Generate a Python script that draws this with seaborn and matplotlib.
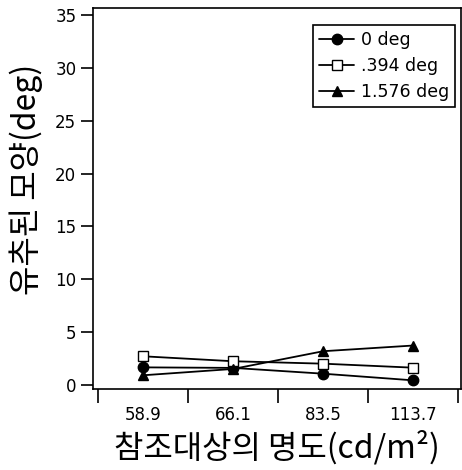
import matplotlib
matplotlib.use("Agg")
import matplotlib.pyplot as plt
import seaborn as sns
import pandas as pd
import numpy as np

categories = ["58.9", "66.1", "83.5", "113.7"]
series_names = ["0 deg", ".394 deg", "1.576 deg"]
vals_0 = [1.65, 1.6, 1.05, 0.42]
vals_394 = [2.7, 2.23, 2.0, 1.62]
vals_1576 = [0.9, 1.5, 3.18, 3.72]
y_ticks = [0, 5, 10, 15, 20, 25, 30, 35]

sns.set_theme(style="white")
plt.rcParams['font.family'] = ['DejaVu Sans']
plt.rcParams['text.color'] = 'black'
plt.rcParams['axes.labelcolor'] = 'black'
plt.rcParams['xtick.color'] = 'black'
plt.rcParams['ytick.color'] = 'black'
kfont = ['Noto Sans CJK KR', 'DejaVu Sans']

fig = plt.figure(figsize=(4.62, 4.70), dpi=100)
ax = fig.add_axes([93/462, 1-389/470, (461-93)/462, (389-8)/470])

pos = np.arange(len(categories))
df = pd.DataFrame({
    "x": np.tile(pos, 3),
    "y": vals_0 + vals_394 + vals_1576,
    "s": np.repeat(series_names, len(categories)),
})
markers = {"0 deg": "o", ".394 deg": "s", "1.576 deg": "^"}
mfc = {"0 deg": "black", ".394 deg": "white", "1.576 deg": "black"}
for name in series_names:
    sub = df[df.s == name]
    sns.lineplot(data=sub, x="x", y="y", ax=ax, color="black", lw=1.3,
                 marker=markers[name], markersize=7.5 if name != ".394 deg" else 7,
                 markerfacecolor=mfc[name], markeredgecolor="black",
                 markeredgewidth=1.0, label=name, legend=False)

ax.set_xlim(-0.556, 3.53)
ax.set_ylim(-0.4, 35.7)
ax.set_yticks(y_ticks)
ax.set_yticklabels([str(t) for t in y_ticks], fontsize=12)
ax.set_xticks(pos)
ax.set_xticklabels(categories, fontsize=12)
ax.set_xticks(np.arange(-0.5, 4.0, 1.0), minor=True)
ax.tick_params(axis='x', which='major', length=0, pad=12, labelcolor='black')
ax.tick_params(axis='x', which='minor', length=10, width=1.2, color='black', direction='out', bottom=True)
ax.tick_params(axis='y', which='major', length=9, width=1.2, color='black', direction='out', left=True, pad=3, labelcolor='black')

for side in ['left', 'bottom', 'top', 'right']:
    ax.spines[side].set_color('black')
    ax.spines[side].set_linewidth(1.2)

ax.set_xlabel("참조대상의 명도(cd/m²)", fontsize=23, family=kfont, color='black')
ax.set_ylabel("유추된 모양(deg)", fontsize=23, family=kfont, color='black')
ax.xaxis.set_label_coords(0.5, -0.108)
ax.yaxis.set_label_coords(-0.137, 0.55)

leg = ax.legend(loc='upper right', bbox_to_anchor=(0.985, 0.955), frameon=True,
                fancybox=False, edgecolor='black', fontsize=12.5, handlelength=2.0,
                borderpad=0.35, labelspacing=0.45, handletextpad=0.4, borderaxespad=0)
leg.get_frame().set_linewidth(1.2)
leg.get_frame().set_alpha(1)
for t in leg.get_texts():
    t.set_color('black')

fig.savefig("out.png", dpi=100)
